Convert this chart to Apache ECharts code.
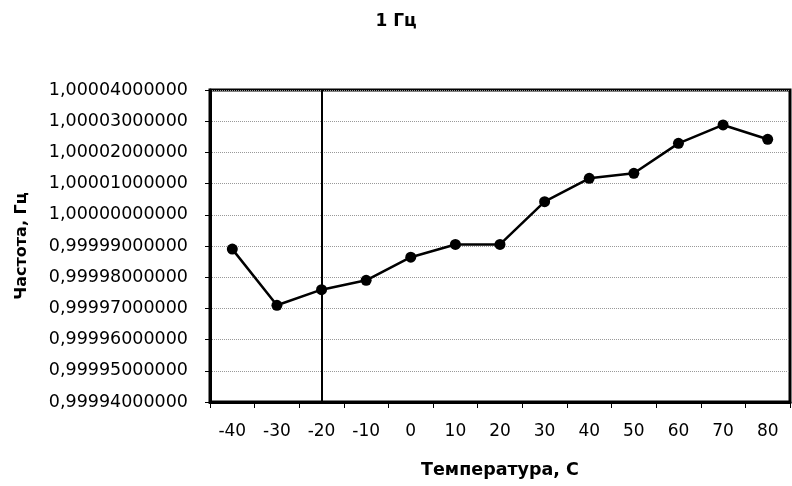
<!DOCTYPE html>
<html>
<head>
<meta charset="utf-8">
<script src="https://cdn.jsdelivr.net/npm/echarts@6/dist/echarts.min.js"></script>
<style>
  html, body { margin: 0; padding: 0; background: #fff; }
  #chart { width: 792px; height: 486px; }
</style>
</head>
<body>
<div id="chart"></div>
<script>
// температура, C
const temps = ['-40', '-30', '-20', '-10', '0', '10', '20', '30', '40', '50', '60', '70', '80'];
// частота, Гц
const freqs = [0.999989, 0.999971, 0.999976, 0.999979, 0.9999864, 0.9999905, 0.9999905,
               1.0000042, 1.0000117, 1.0000133, 1.0000229, 1.0000288, 1.0000242];
const yMin = 0.99994, yMax = 1.00004, yStep = 0.00001;
const crossAt = '-20';

const font = 'DejaVu Sans';
let myChart = echarts.init(document.getElementById('chart'));
let option = {
    animation: false,
    backgroundColor: '#fff',
    title: {
        text: '1 Гц',
        left: 'center',
        top: 8,
        textStyle: { fontFamily: font, fontSize: 17, fontWeight: 'bold', color: '#000' }
    },
    grid: {
        left: 210, top: 90, right: 2, bottom: 84,
        show: true, borderColor: '#000', borderWidth: 3, backgroundColor: '#fff'
    },
    xAxis: {
        type: 'category',
        data: temps,
        boundaryGap: true,
        name: 'Температура, С',
        nameLocation: 'middle',
        nameGap: 59,
        nameTextStyle: { fontFamily: font, fontSize: 17.5, fontWeight: 'bold', color: '#000' },
        axisLine: { lineStyle: { color: '#000', width: 3 } },
        axisTick: { show: true, length: 6, lineStyle: { color: '#000', width: 1 } },
        axisLabel: { fontFamily: font, fontSize: 17, color: '#000', margin: 21 },
        splitLine: { show: false }
    },
    yAxis: {
        type: 'value',
        min: yMin,
        max: yMax,
        interval: yStep,
        name: 'Частота, Гц',
        nameLocation: 'middle',
        nameGap: 180,
        nameTextStyle: { fontFamily: font, fontSize: 16, fontWeight: 'bold', color: '#000' },
        axisLine: { show: true, lineStyle: { color: '#000', width: 3 } },
        axisTick: { show: true, length: 5, lineStyle: { color: '#000', width: 1 } },
        axisLabel: {
            fontFamily: font, fontSize: 17.5, color: '#000', margin: 22,
            formatter: v => v.toFixed(11).replace('.', ',')
        },
        splitLine: { show: true, lineStyle: { color: '#999', width: 1, type: [1, 1] } }
    },
    series: [{
        type: 'line',
        data: freqs,
        symbol: 'circle',
        symbolSize: 11,
        lineStyle: { color: '#000', width: 2.5 },
        itemStyle: { color: '#000' },
        markLine: {
            silent: true,
            symbol: 'none',
            label: { show: false },
            lineStyle: { color: '#000', width: 2, type: 'solid' },
            data: [{ xAxis: crossAt }]
        }
    }]
};
myChart.setOption(option);
window.addEventListener('resize', function () { myChart.resize(); });
</script>
</body>
</html>
